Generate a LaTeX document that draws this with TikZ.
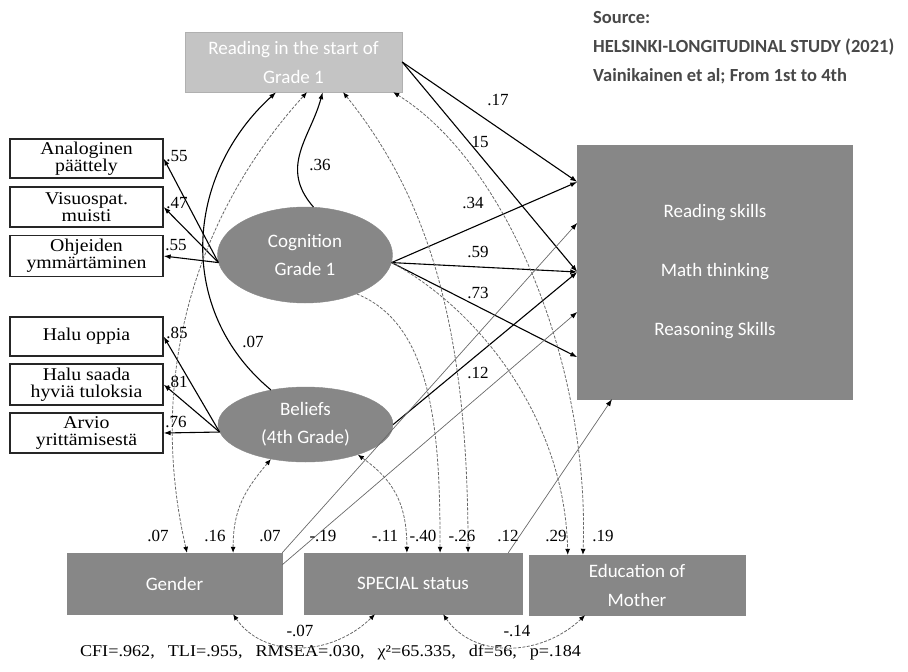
\documentclass[tikz,border=0pt]{standalone}
\usepackage{fontspec}
\setmainfont{Liberation Serif}
\newfontfamily\semfont{Carlito}
\newfontfamily\boxfont{Liberation Serif}[FakeStretch=1.1]
\usetikzlibrary{positioning, arrows.meta, shapes.geometric, calc}
\definecolor{latgray}{RGB}{135, 135, 135}
\definecolor{ligray}{RGB}{196, 196, 196}
\definecolor{srcgray}{RGB}{72, 72, 72}
\definecolor{pathgray}{RGB}{105, 105, 105}
\tikzset{
  latent/.style={
    ellipse, fill=latgray, draw=latgray, text=white,
    align=center, inner sep=0pt, minimum width=175pt,
    font=\semfont\fontsize{19}{28}\selectfont,
  },
  obsbox/.style={
    rectangle, fill=latgray, draw=latgray, text=white,
    align=center, inner sep=0pt,
    font=\semfont\fontsize{19}{29}\selectfont,
  },
  indic/.style={
    rectangle, draw=black!85, line width=1.3pt, fill=white,
    align=center, inner sep=0pt, minimum width=153pt, minimum height=39pt,
    font=\boxfont\fontsize{18}{17}\selectfont,
  },
  load/.style={draw=black, line width=1.1pt, -{Latex[length=7pt, width=5pt]}},
  weak/.style={draw=pathgray, line width=0.7pt, -{Latex[length=7pt, width=5pt, color=black]}},
  nsig/.style={draw=pathgray, line width=0.8pt, dash pattern=on 3pt off 1.5pt,
    -{Latex[length=6pt, width=5pt, color=black]}},
  cov/.style={draw=pathgray, line width=0.8pt, dash pattern=on 3pt off 1.5pt,
    {Latex[length=6pt, width=5pt, color=black]}-{Latex[length=6pt, width=5pt, color=black]}},
  coef/.style={font=\fontsize{17}{17}\selectfont, inner sep=0pt},
}

\begin{document}
\begin{tikzpicture}[x=1pt, y=-1pt]
\useasboundingbox (0,0) rectangle (908,672);

\node[obsbox, fill=ligray, draw=ligray!90!black, minimum width=217pt, minimum height=60pt] (rd) at (293.5,62) {Reading in the start of\\Grade 1};

\node[anchor=west, align=left, text=srcgray, inner sep=0pt,
      font=\semfont\bfseries\fontsize{18.5}{29}\selectfont] (src) at (593,48)
  {Source:\\HELSINKI-LONGITUDINAL STUDY (2021)\\Vainikainen et al; From 1st to 4th};

\node[obsbox, minimum width=275pt, minimum height=254pt,
      font=\semfont\fontsize{19}{59}\selectfont] (outc) at (715,272)
  {Reading skills\\Math thinking\\Reasoning Skills};

\node[indic] (ana) at (86.5,158.5) {Analoginen\\päättely};
\node[indic, minimum height=40pt] (vis) at (86.5,207) {Visuospat.\\muisti};
\node[indic, minimum height=41pt] (ohj) at (86.5,256) {Ohjeiden\\ymmärtäminen};
\node[indic] (hal) at (86.5,336.5) {Halu oppia};
\node[indic, minimum height=41pt] (sad) at (86.5,384.5) {Halu saada\\hyviä tuloksia};
\node[indic, minimum height=40pt] (arv) at (86.5,433) {Arvio\\yrittämisestä};

\node[latent, minimum height=96pt] (cog) at (305,255) {Cognition\\Grade 1};
\node[latent, minimum height=75pt] (bel) at (305.5,424.5) {Beliefs\\(4th Grade)};

\node[obsbox, minimum width=215pt, minimum height=61pt] (gen) at (174.5,583.5) {Gender};
\node[obsbox, minimum width=218pt, minimum height=61pt] (spec) at (413,583.5) {SPECIAL status};
\node[obsbox, minimum width=216pt, minimum height=60pt] (edu) at (637,585) {Education of\\Mother};

\node[font=\boxfont\fontsize{16.5}{16.5}\selectfont, inner sep=0pt] (fit) at (330.5,652)
  {CFI=.962,\hspace{13pt}TLI=.955,\hspace{13pt}RMSEA=.030,\hspace{13pt}χ²=65.335,\hspace{13pt}df=56,\hspace{13pt}p=.184};

% anchor points along the box edges
\coordinate (r1) at ($(rd.south west)!0.420!(rd.south east)$);
\coordinate (r2) at ($(rd.south west)!0.562!(rd.south east)$);
\coordinate (r3) at ($(rd.south west)!0.634!(rd.south east)$);
\coordinate (r4) at ($(rd.south west)!0.728!(rd.south east)$);
\coordinate (r5) at ($(rd.south west)!0.959!(rd.south east)$);
\coordinate (o1) at ($(outc.north west)!0.146!(outc.south west)$);
\coordinate (o2) at ($(outc.north west)!0.307!(outc.south west)$);
\coordinate (o4) at ($(outc.north west)!0.657!(outc.south west)$);
\coordinate (o5) at ($(outc.north west)!0.835!(outc.south west)$);
\coordinate (o6) at ($(outc.south west)!0.126!(outc.south east)$);
\coordinate (g1) at ($(gen.north west)!0.558!(gen.north east)$);
\coordinate (g2) at ($(gen.north west)!0.772!(gen.north east)$);
\coordinate (g4) at ([yshift=-12pt]gen.north east);
\coordinate (gb) at ($(gen.south west)!0.772!(gen.south east)$);
\coordinate (s1) at ($(spec.north west)!0.472!(spec.north east)$);
\coordinate (s2) at ($(spec.north west)!0.624!(spec.north east)$);
\coordinate (s3) at ($(spec.north west)!0.752!(spec.north east)$);
\coordinate (s4) at ($(spec.north west)!0.936!(spec.north east)$);
\coordinate (sb1) at ($(spec.south west)!0.326!(spec.south east)$);
\coordinate (sb2) at ($(spec.south west)!0.638!(spec.south east)$);
\coordinate (e1) at ($(edu.north west)!0.180!(edu.north east)$);
\coordinate (e2) at ($(edu.north west)!0.250!(edu.north east)$);
\coordinate (eb) at ($(edu.south west)!0.260!(edu.south east)$);

% loadings
\draw[load] (cog.185) -- (ana.east);
\draw[load] (cog.185) -- (vis.east);
\draw[load] (cog.185) -- (ohj.east);
\draw[load] (bel.185) -- (hal.east);
\draw[load] (bel.185) -- (sad.east);
\draw[load] (bel.185) -- (arv.east);

% structural paths
\draw[load] (cog.80) .. controls +(-35,-40) and +(-12,45) .. (r3);
\draw[load] (bel.135) .. controls (175,310) and (185,175) .. (r1);
\draw[load] (rd.east) -- (o1);
\draw[load] (rd.east) -- (outc.west);
\draw[load] (cog.355) -- (o1);
\draw[load] (cog.355) -- (outc.west);
\draw[load] (cog.355) -- (o5);
\draw[load] (bel.east) -- (outc.west);
\draw[weak] (gen.north east) -- (o2);
\draw[weak] (g4) -- (o4);
\draw[weak] (s4) -- (o6);
\draw[nsig] (cog.323) .. controls (435,325) and (440,440) .. (s2);
\draw[nsig] (cog.355) .. controls (480,310) and (565,420) .. (e1);

% covariances
\draw[cov] (g1) .. controls (145,370) and (200,210) .. (r2);
\draw[cov] (bel.225) .. controls +(-25,30) and +(0,-45) .. (g2);
\draw[cov] (bel.330) .. controls +(35,25) and +(0,-50) .. (s1);
\draw[cov] (r4) .. controls (430,200) and (468,330) .. (s3);
\draw[cov] (r5) .. controls (510,165) and (590,370) .. (e2);
\draw[cov] (gb) .. controls (263,658) and (330,658) .. (sb1);
\draw[cov] (sb2) .. controls (473,658) and (540,658) .. (eb);

% coefficients
\node[coef] (c1) at (177,156) {.55};
\node[coef] (c2) at (177,203) {.47};
\node[coef] (c3) at (176,245) {.55};
\node[coef] (c4) at (177,333) {.85};
\node[coef] (c5) at (177,382) {.81};
\node[coef] (c6) at (176,422) {.76};
\node[coef] (c7) at (320,165) {.36};
\node[coef] (c8) at (253,342) {.07};
\node[coef] (c9) at (498,100) {.17};
\node[coef] (c10) at (480,142) {15};
\node[coef] (c11) at (473,203) {.34};
\node[coef] (c12) at (478,252) {.59};
\node[coef] (c13) at (478,293) {.73};
\node[coef] (c14) at (478,373) {.12};
\node[coef] (c15) at (158,536) {.07};
\node[coef] (c16) at (215,536) {.16};
\node[coef] (c17) at (270,536) {.07};
\node[coef] (c18) at (323,536) {-.19};
\node[coef] (c19) at (385,536) {-.11};
\node[coef] (c20) at (423,536) {-.40};
\node[coef] (c21) at (462,536) {-.26};
\node[coef] (c22) at (508,536) {.12};
\node[coef] (c23) at (556,536) {.29};
\node[coef] (c24) at (603,536) {.19};
\node[coef] (c25) at (300,631) {-.07};
\node[coef] (c26) at (517,631) {-.14};

\end{tikzpicture}
\end{document}
